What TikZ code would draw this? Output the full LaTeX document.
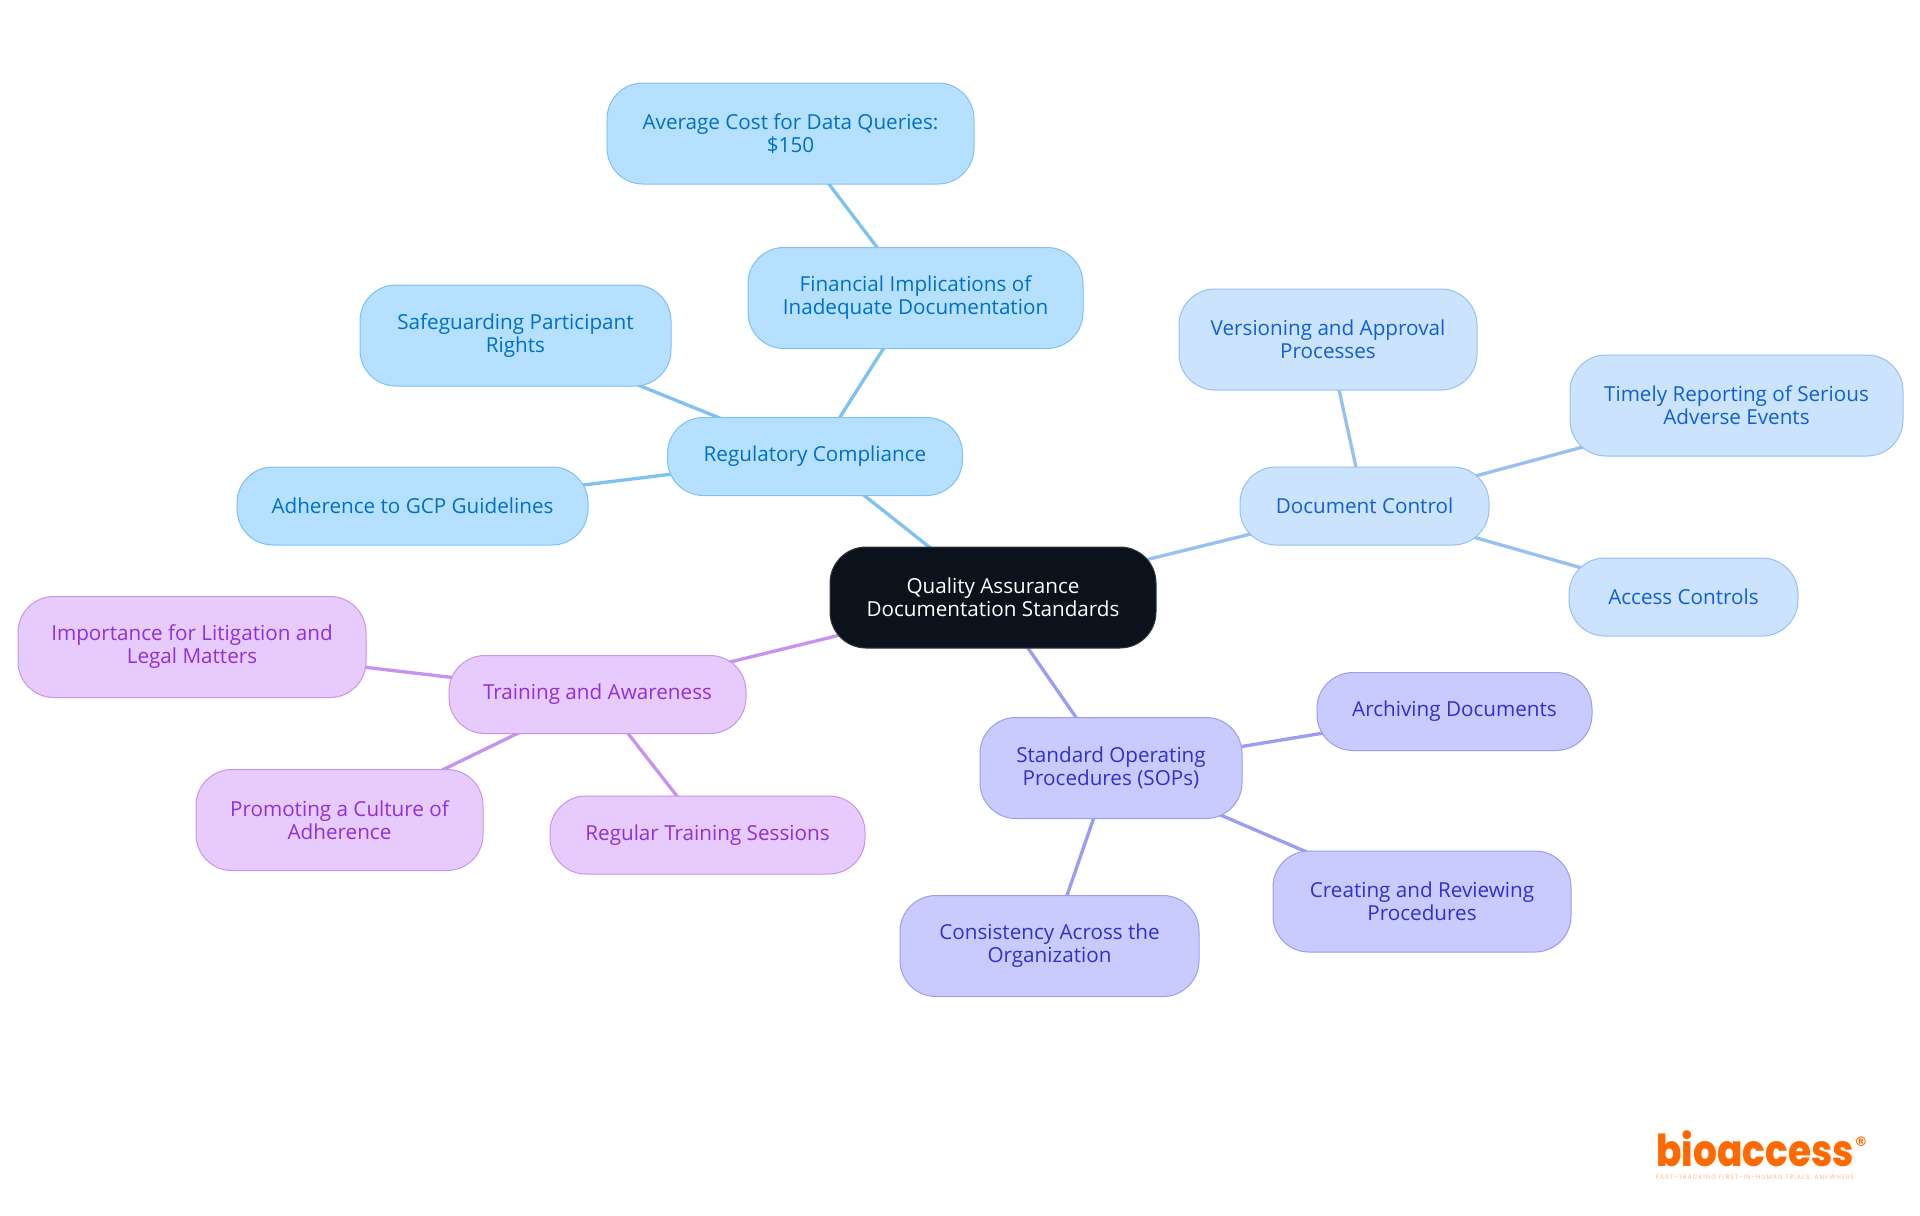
\documentclass[tikz,border=0pt]{standalone}
\usepackage{fontspec}
\setmainfont{Open Sans}
\newfontfamily\logofont{Poppins ExtraBold}
\newfontfamily\markfont{DejaVu Sans}
\newfontfamily\tagfont{Poppins}
\usetikzlibrary{backgrounds}
\definecolor{bluefill}{HTML}{B5E0FF}\definecolor{blueline}{HTML}{7FC1F0}\definecolor{bluetext}{HTML}{0070C4}
\definecolor{skyfill}{HTML}{CCE3FD}\definecolor{skyline}{HTML}{96C1F1}\definecolor{skytext}{HTML}{1060D4}
\definecolor{indfill}{HTML}{C9CBFE}\definecolor{indline}{HTML}{9A9DF1}\definecolor{indtext}{HTML}{3030CC}
\definecolor{purfill}{HTML}{E8CBFD}\definecolor{purline}{HTML}{C893EF}\definecolor{purtext}{HTML}{9030D8}
\definecolor{rootfill}{HTML}{0B121B}\definecolor{rootline}{HTML}{33383F}
\definecolor{logoorange}{HTML}{FF6A00}\definecolor{logopale}{HTML}{FFB98A}
\tikzset{
  x=0.75pt,y=-0.75pt,
  box/.style n args={2}{draw,line width=0.75pt,rounded corners=27pt,inner sep=0pt,align=center,
    font=\fontsize{15.5pt}{17.2pt}\selectfont,minimum width=#1*0.75pt,minimum height=#2*0.75pt},
  bluebox/.style={fill=bluefill,draw=blueline,text=bluetext},
  skybox/.style={fill=skyfill,draw=skyline,text=skytext},
  indbox/.style={fill=indfill,draw=indline,text=indtext},
  purbox/.style={fill=purfill,draw=purline,text=purtext},
  rootbox/.style={fill=rootfill,draw=rootline,text=white},
  blueedge/.style={draw=blueline,line width=2.5pt},
  skyedge/.style={draw=skyline,line width=2.5pt},
  indedge/.style={draw=indline,line width=2.5pt},
  puredge/.style={draw=purline,line width=2.5pt},
}
\begin{document}
\begin{tikzpicture}
\useasboundingbox (0,0) rectangle (1920,1215);
\node[box={326}{101},rootbox] (root) at (993,597.5) {Quality Assurance\\Documentation Standards};
\node[box={295}{78},bluebox] (reg) at (815,456.5) {Regulatory Compliance};
\node[box={367}{101},bluebox] (avg) at (790.5,133.5) {Average Cost for Data Queries:\\\$150};
\node[box={335}{101},bluebox] (fin) at (915.5,298) {Financial Implications of\\Inadequate Documentation};
\node[box={311}{101},bluebox] (safe) at (515.5,335.5) {Safeguarding Participant\\Rights};
\node[box={351}{78},bluebox] (gcp) at (412.5,506) {Adherence to GCP Guidelines};
\node[box={249}{78},skybox] (doc) at (1364.5,506) {Document Control};
\node[box={298}{101},skybox] (ver) at (1328,339.5) {Versioning and Approval\\Processes};
\node[box={333}{101},skybox] (time) at (1736.5,405.5) {Timely Reporting of Serious\\Adverse Events};
\node[box={229}{78},skybox] (acc) at (1683.5,597) {Access Controls};
\node[box={262}{101},indbox] (sop) at (1111,768) {Standard Operating\\Procedures (SOPs)};
\node[box={275}{78},indbox] (arch) at (1454.5,711.5) {Archiving Documents};
\node[box={298}{101},indbox] (crea) at (1422,901.5) {Creating and Reviewing\\Procedures};
\node[box={299}{101},indbox] (cons) at (1049.5,946) {Consistency Across the\\Organization};
\node[box={297}{78},purbox] (train) at (597.5,694.5) {Training and Awareness};
\node[box={348}{101},purbox] (imp) at (192,647) {Importance for Litigation and\\Legal Matters};
\node[box={287}{101},purbox] (prom) at (339.5,820) {Promoting a Culture of\\Adherence};
\node[box={315}{78},purbox] (regu) at (707.5,835) {Regular Training Sessions};
\begin{scope}[on background layer]
\draw[blueedge] (root.center) -- (reg.center);
\draw[blueedge] (reg.center) -- (fin.center);
\draw[blueedge] (fin.center) -- (avg.center);
\draw[blueedge] (reg.center) -- (safe.center);
\draw[blueedge] (reg.center) -- (gcp.center);
\draw[skyedge] (root.center) -- (doc.center);
\draw[skyedge] (doc.center) -- (ver.center);
\draw[skyedge] (doc.center) -- (time.center);
\draw[skyedge] (doc.center) -- (acc.center);
\draw[indedge] (root.center) -- (sop.center);
\draw[indedge] (sop.center) -- (arch.center);
\draw[indedge] (sop.center) -- (crea.center);
\draw[indedge] (sop.center) -- (cons.center);
\draw[puredge] (root.center) -- (train.center);
\draw[puredge] (train.center) -- (imp.center);
\draw[puredge] (train.center) -- (prom.center);
\draw[puredge] (train.center) -- (regu.center);
\end{scope}
\node[inner sep=0pt,text=logoorange,anchor=base] (logo) at (1755,1166) {\scalebox{0.85}[1]{\logofont\fontsize{33pt}{33pt}\selectfont bioaccess}};
\node[inner sep=0pt,text=logoorange,anchor=center] (logor) at (1861,1142) {\markfont\bfseries\fontsize{10pt}{10pt}\selectfont ®};
\node[inner sep=0pt,text=logopale,anchor=center] (logot) at (1755,1178) {\tagfont\fontsize{4.8pt}{5pt}\selectfont\addfontfeatures{LetterSpace=14} FAST-TRACKING FIRST-IN-HUMAN TRIALS, ANYWHERE};
\end{tikzpicture}
\end{document}
